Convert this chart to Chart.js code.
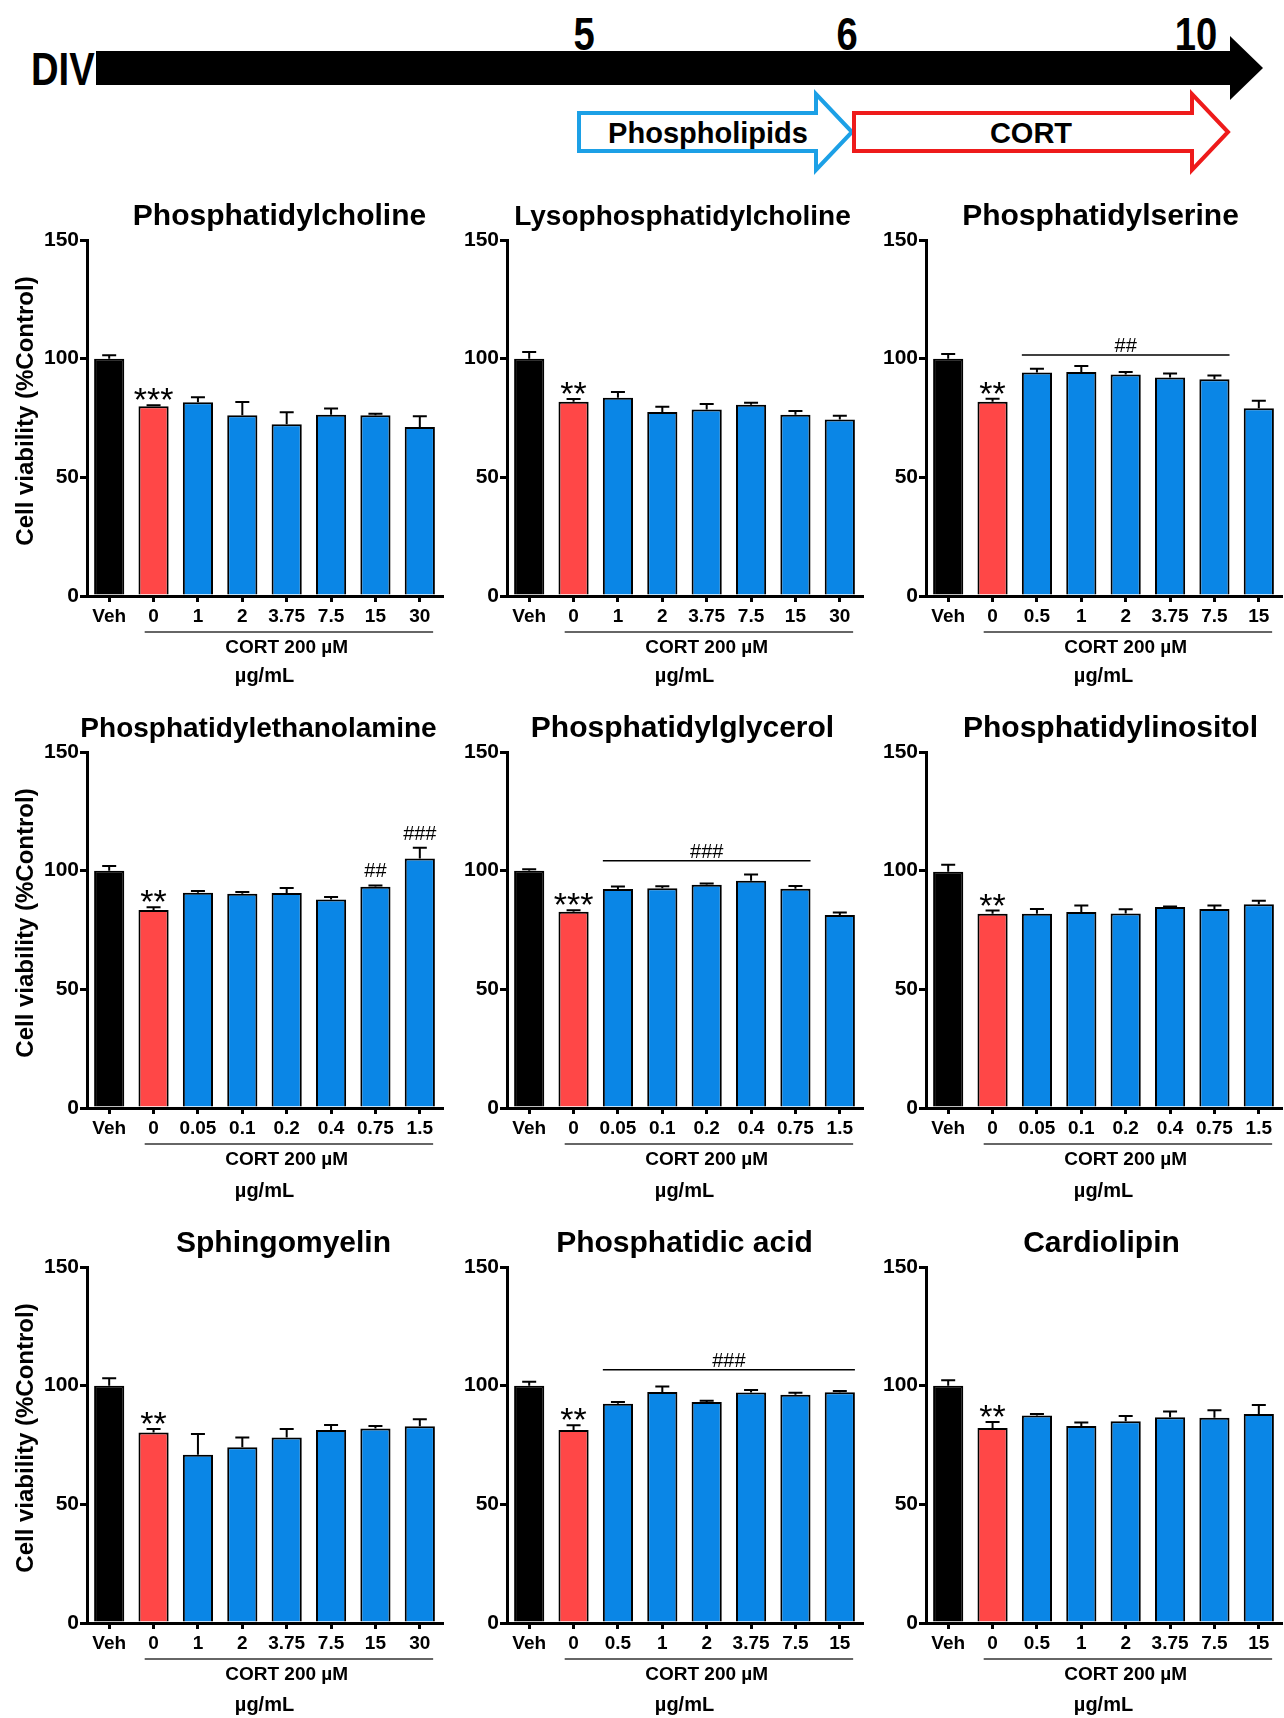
<!DOCTYPE html>
<html lang="en">
<head>
<meta charset="UTF-8">
<title>Phospholipids vs CORT - cell viability</title>
<script src="https://cdn.jsdelivr.net/npm/chart.js"></script>
<style>
  body { margin: 0; background: #fff; }
  #page { position: relative; width: 1284px; height: 1718px; overflow: hidden; }
  #page canvas { position: absolute; }
  #timeline { position: absolute; left: 0; top: 0; }
  #timeline text { font-family: "Liberation Sans", Arial, sans-serif; font-weight: bold; fill: #000; }
</style>
</head>
<body>
<div id="page">
  <!-- DIV timeline on top -->
  <svg id="timeline" width="1284" height="190">
    <text transform="translate(31,85) scale(0.83,1)" font-size="46">DIV</text>
    <polygon points="96,51 1230,51 1230,36 1263,68 1230,100 1230,85 96,85" fill="#000"/>
    <text transform="translate(584,50) scale(0.83,1)" font-size="46" text-anchor="middle">5</text>
    <text transform="translate(847,50) scale(0.83,1)" font-size="46" text-anchor="middle">6</text>
    <text transform="translate(1196,50) scale(0.83,1)" font-size="46" text-anchor="middle">10</text>
    <polygon points="579,113 816,113 816,94 852,132 816,170 816,151 579,151" fill="#fff" stroke="#1CA0E6" stroke-width="4"/>
    <polygon points="854,113 1192,113 1192,94 1228,132 1192,170 1192,151 854,151" fill="#fff" stroke="#EE1B1B" stroke-width="4"/>
    <text x="708" y="143" font-size="29" text-anchor="middle">Phospholipids</text>
    <text x="1031" y="143" font-size="29" text-anchor="middle">CORT</text>
  </svg>
</div>

<script>
// categories (µg/mL), Veh and CORT alone first
const dosesA = ['Veh', '0', '1', '2', '3.75', '7.5', '15', '30'];
const dosesB = ['Veh', '0', '0.5', '1', '2', '3.75', '7.5', '15'];
const dosesC = ['Veh', '0', '0.05', '0.1', '0.2', '0.4', '0.75', '1.5'];

const titles = ['Phosphatidylcholine', 'Lysophosphatidylcholine', 'Phosphatidylserine',
                'Phosphatidylethanolamine', 'Phosphatidylglycerol', 'Phosphatidylinositol',
                'Sphingomyelin', 'Phosphatidic acid', 'Cardiolipin'];

// mean cell viability (%Control) and SEM
const pcMean  = [100, 80.0, 81.6, 76.2, 72.4, 76.4, 76.2, 71.2];
const pcErr   = [1.4, 0.4, 2.1, 5.5, 5.0, 2.6, 0.6, 4.5];
const lpcMean = [100, 81.8, 83.5, 77.5, 78.6, 80.6, 76.4, 74.4];
const lpcErr  = [2.8, 1.2, 2.5, 2.2, 2.3, 0.8, 1.6, 1.5];
const psMean  = [100, 81.8, 94.2, 94.4, 93.3, 92.1, 91.3, 79.1];
const psErr   = [2.0, 1.3, 1.5, 2.5, 1.1, 1.6, 1.6, 3.2];
const peMean  = [100, 83.4, 90.7, 90.3, 90.6, 87.9, 93.2, 105.1];
const peErr   = [2.0, 1.2, 0.7, 0.7, 2.1, 1.0, 0.6, 4.6];
const pgMean  = [100, 82.7, 92.3, 92.6, 94.1, 95.7, 92.4, 81.3];
const pgErr   = [0.6, 0.6, 1.0, 0.8, 0.5, 2.7, 1.1, 1.1];
const piMean  = [99.5, 81.8, 81.8, 82.6, 81.9, 84.7, 83.9, 85.9];
const piErr   = [3.0, 1.4, 2.1, 2.7, 1.8, 0.2, 1.4, 1.4];
const smMean  = [100, 80.3, 70.9, 74.0, 78.2, 81.3, 82.0, 82.9];
const smErr   = [3.1, 1.4, 8.7, 4.2, 3.5, 2.1, 1.0, 3.0];
const paMean  = [100, 81.3, 92.4, 97.3, 93.1, 97.1, 96.2, 97.2];
const paErr   = [1.6, 2.0, 0.7, 2.4, 0.5, 1.1, 0.8, 0.6];
const clMean  = [100, 82.2, 87.4, 83.0, 85.0, 86.7, 86.5, 88.1];
const clErr   = [2.3, 2.5, 0.7, 1.5, 2.2, 2.4, 3.1, 3.8];

const yTicks = [0, 50, 100, 150];

// significance marks: * vs Veh on the CORT bar, # vs CORT
const starMarks = ['***', '**', '**', '**', '***', '**', '**', '**', '**'];
const peHash = ['', '', '', '', '', '', '##', '###'];
// brackets: [first bar, last bar, level (%), label]
const psBracket = [2, 6, 101.5, '##'];
const pgBracket = [2, 6, 104.2, '###'];
const paBracket = [2, 7, 106.7, '###'];

const panels = [
  { labels: dosesA, means: pcMean,  errs: pcErr },
  { labels: dosesA, means: lpcMean, errs: lpcErr },
  { labels: dosesB, means: psMean,  errs: psErr,  bracket: psBracket },
  { labels: dosesC, means: peMean,  errs: peErr,  hashes: peHash },
  { labels: dosesC, means: pgMean,  errs: pgErr,  bracket: pgBracket },
  { labels: dosesC, means: piMean,  errs: piErr },
  { labels: dosesA, means: smMean,  errs: smErr },
  { labels: dosesB, means: paMean,  errs: paErr,  bracket: paBracket },
  { labels: dosesB, means: clMean,  errs: clErr }
];

const FONT = '"Liberation Sans", Arial, sans-serif';
const colLeft = [0, 420, 839];
const rowTop = [190, 702, 1217];
const unitShift = [79, 82, 81];           // µg/mL below axis, per row
const titleShift = [15, -2, -3, -6, -2, 7, 19, 0, -2];
const titleSize = [30, 28, 30, 28, 30, 30, 30, 30, 30];

function makeAnnotator(p, idx) {
  const row = Math.floor(idx / 3), col = idx % 3;
  return {
    id: 'annotate' + idx,
    afterDatasetsDraw(chart) {
      const ctx = chart.ctx, xs = chart.scales.x, ys = chart.scales.y, area = chart.chartArea;
      const meta = chart.getDatasetMeta(0);
      const cw = xs.getPixelForValue(1) - xs.getPixelForValue(0);
      ctx.save();

      // error bars (upper only)
      ctx.strokeStyle = '#000';
      ctx.lineWidth = 2;
      p.means.forEach((m, i) => {
        const bx = meta.data[i].x;
        const y0 = ys.getPixelForValue(m);
        const y1 = ys.getPixelForValue(m + p.errs[i]);
        ctx.beginPath();
        ctx.moveTo(bx, y0); ctx.lineTo(bx, y1);
        ctx.moveTo(bx - 7, y1); ctx.lineTo(bx + 7, y1);
        ctx.stroke();
      });

      ctx.fillStyle = '#000';
      ctx.textAlign = 'center';
      ctx.textBaseline = 'alphabetic';

      // title
      ctx.font = 'bold ' + titleSize[idx] + 'px ' + FONT;
      ctx.fillText(titles[idx], (area.left + area.right) / 2 + titleShift[idx], 35);

      // y-axis title only on the left column
      if (col === 0) {
        ctx.save();
        ctx.translate(33, 221);
        ctx.rotate(-Math.PI / 2);
        ctx.font = 'bold 24px ' + FONT;
        ctx.fillText('Cell viability (%Control)', 0, 0);
        ctx.restore();
      }

      // stars over CORT-only bar
      ctx.font = '34px ' + FONT;
      const sTop = ys.getPixelForValue(p.means[1] + p.errs[1]);
      ctx.fillText(starMarks[idx], meta.data[1].x, sTop - 14 + 20);

      // hashes
      ctx.font = '20px ' + FONT;
      if (p.hashes) {
        p.hashes.forEach((h, i) => {
          if (!h) return;
          const t = ys.getPixelForValue(p.means[i] + p.errs[i]);
          ctx.fillText(h, meta.data[i].x, t - 15 + 7);
        });
      }
      if (p.bracket) {
        const [a, b, lvl, lab] = p.bracket;
        const half = meta.data[a].width / 2;
        const x0 = meta.data[a].x - half, x1 = meta.data[b].x + half;
        const yb = ys.getPixelForValue(lvl);
        ctx.lineWidth = 1.5;
        ctx.beginPath(); ctx.moveTo(x0, yb); ctx.lineTo(x1, yb); ctx.stroke();
        ctx.fillText(lab, (x0 + x1) / 2, yb - 10 + 7);
      }

      // CORT underline and labels
      const c1 = xs.getPixelForValue(1), c7 = xs.getPixelForValue(7);
      const yu = area.bottom + 36;
      ctx.strokeStyle = '#333';
      ctx.lineWidth = 1.5;
      ctx.beginPath(); ctx.moveTo(c1 - 0.2 * cw, yu); ctx.lineTo(c7 + 0.3 * cw, yu); ctx.stroke();
      ctx.font = 'bold 19px ' + FONT;
      ctx.fillText('CORT 200 \u00b5M', (c1 + c7) / 2, area.bottom + 57);
      ctx.font = 'bold 20px ' + FONT;
      ctx.fillText('\u00b5g/mL', (area.left + area.right) / 2, area.bottom + unitShift[row] + 7);

      ctx.restore();
    }
  };
}

panels.forEach((p, idx) => {
  const row = Math.floor(idx / 3), col = idx % 3;
  const cv = document.createElement('canvas');
  cv.width = 445;
  cv.height = 500;
  cv.style.left = colLeft[col] + 'px';
  cv.style.top = rowTop[row] + 'px';
  document.getElementById('page').appendChild(cv);

  const colors = p.means.map((_, i) => i === 0 ? '#000000' : (i === 1 ? '#FF4747' : '#0A86E6'));

  new Chart(cv.getContext('2d'), {
    type: 'bar',
    data: {
      labels: p.labels,
      datasets: [{
        data: p.means,
        backgroundColor: colors,
        borderColor: '#000',
        borderWidth: 2,
        barPercentage: 0.68,
        categoryPercentage: 1
      }]
    },
    options: {
      responsive: false,
      animation: false,
      layout: { padding: { top: 50, right: 3, left: 0, bottom: 0 } },
      plugins: { legend: { display: false }, tooltip: { enabled: false }, title: { display: false } },
      scales: {
        x: {
          grid: { drawOnChartArea: false, drawTicks: true, tickLength: 6, offset: false, color: '#000', lineWidth: 3 },
          border: { display: true, color: '#000', width: 3 },
          ticks: { color: '#000', font: { family: FONT, size: 19, weight: 'bold' }, padding: 3, maxRotation: 0, autoSkip: false },
          afterFit: s => { s.height = 94; }
        },
        y: {
          min: yTicks[0],
          max: yTicks[yTicks.length - 1],
          afterBuildTicks: s => { s.ticks = yTicks.map(v => ({ value: v })); },
          ticks: { color: '#000', font: { family: FONT, size: 21, weight: 'bold' }, padding: 1 },
          grid: { drawOnChartArea: false, drawTicks: true, tickLength: 7, color: '#000', lineWidth: 3 },
          border: { display: true, color: '#000', width: 3 },
          afterFit: s => { s.width = 87; }
        }
      }
    },
    plugins: [makeAnnotator(p, idx)]
  });
});
</script>
</body>
</html>
